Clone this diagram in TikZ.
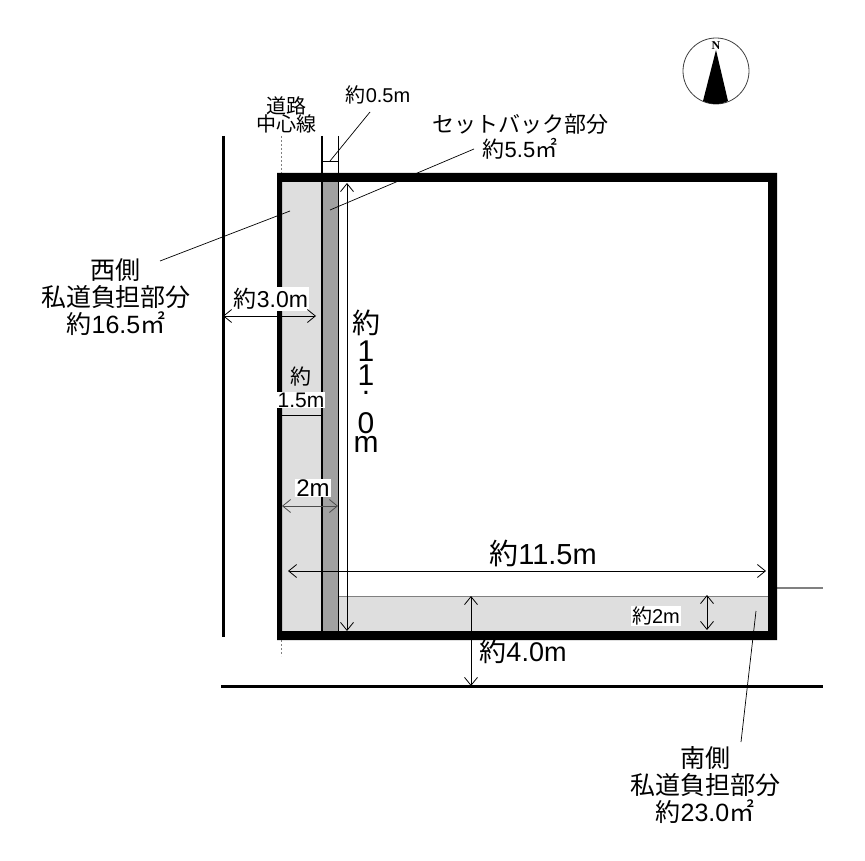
\documentclass[tikz,border=0pt]{standalone}
\usepackage{fontspec}
\setmainfont{Liberation Sans}
\newfontfamily\cjkfont{Noto Sans CJK JP}
\newfontfamily\compassfont{Liberation Serif}
\newcommand{\jp}[1]{{\cjkfont #1}}
\usetikzlibrary{arrows.meta}
\definecolor{roadlight}{gray}{0.87}
\definecolor{roaddark}{gray}{0.63}
\tikzset{
    lbl/.style={align=center, inner sep=1pt, font=\fontsize{#1}{#1}\selectfont},
    halo/.style={lbl=#1, fill=white},
    leader/.style={draw=black, line width=0.7pt},
    dimline/.style={draw=black, line width=0.8pt, {Straight Barb[length=8pt,width=13pt]}-{Straight Barb[length=8pt,width=13pt]}},
    roadline/.style={draw=black, line width=3pt}
}
\begin{document}
\begin{tikzpicture}[x=1pt, y=-1pt]
    \useasboundingbox (0,0) rectangle (865,861);

    % Road shares and setback strip
    \fill[roadlight] (282,181) rectangle (322,632);
    \fill[roadlight] (338,596) rectangle (769,632);
    \draw[gray, line width=1pt] (338,596) -- (769,596);
    \fill[roaddark] (323,181) rectangle (338,632);

    % Centre line of the road
    \draw[gray, line width=1pt, dash pattern=on 2pt off 2pt] (281,136) -- (281,173);
    \draw[gray, line width=1pt, dash pattern=on 2pt off 2pt] (281,640) -- (281,656);

    % Road edges
    \draw[roadline] (223,136) -- (223,637);
    \draw[roadline] (221,686) -- (823,686);
    \draw[gray, line width=1.5pt] (777,588) -- (823,588);

    % Boundary lines of the setback
    \draw[black, line width=2.2pt] (322,136) -- (322,632);
    \draw[black, line width=0.6pt] (338,136) -- (338,632);
    \draw[black, line width=0.6pt] (322,161) -- (338,161);
    \draw[black, line width=0.6pt] (282,415) -- (321,415);

    % Lot outline
    \fill[black, even odd rule] (277,173) rectangle (777,640) (282,182) rectangle (768,631);

    % Leader ends
    \coordinate (setbackEnd) at (330,210);
    \coordinate (westEnd) at (290,211);
    \coordinate (southEnd) at (756,611);
    \coordinate (halfEnd) at (330,161);

    % Labels
    \node[lbl=20] (centreLabel) at (286,115) {\jp{道路}\\[-2pt]\jp{中心線}};
    \node[lbl=20] (halfLabel) at (378,95) {\jp{約}0.5m};
    \node[lbl=22] (setbackLabel) at (520,137) {\jp{セットバック部分}\\[3pt]\jp{約}5.5\jp{㎡}};
    \node[lbl=25] (westLabel) at (116,297) {\jp{西側}\\[2pt]\jp{私道負担部分}\\[2pt]\jp{約}16.5\jp{㎡}};
    \node[lbl=25] (southLabel) at (705,785) {\jp{南側}\\[2pt]\jp{私道負担部分}\\[2pt]\jp{約}23.0\jp{㎡}};
    \node[align=center, inner sep=0pt, font=\fontsize{30}{26}\selectfont] (depthLabel) at (366,381) {\jp{\fontsize{28}{26}\selectfont 約}\\[2pt]1\\[-2pt]1\\[-17pt].\\[13pt]0\\[-7pt]m};
    \node[lbl=29] (widthLabel) at (543,553) {\jp{約}11.5m};
    \node[lbl=27] (roadSouthLabel) at (523,651) {\jp{約}4.0m};

    % Leaders
    \draw[leader] (474,149) -- (setbackEnd);
    \draw[leader] (370,112) -- (halfEnd);
    \draw[leader] (160,261) -- (westEnd);
    \draw[leader] (741,742) -- (southEnd);

    % Dimension arrows
    \coordinate (depthTop) at (347,183);
    \coordinate (depthBottom) at (347,631);
    \coordinate (widthLeft) at (288,571);
    \coordinate (widthRight) at (766,571);
    \coordinate (westRoadA) at (223,316);
    \coordinate (westRoadB) at (316,316);
    \coordinate (twoA) at (282,506);
    \coordinate (twoB) at (338,506);
    \coordinate (southA) at (707,595);
    \coordinate (southB) at (707,630);
    \coordinate (roadA) at (471,596);
    \coordinate (roadB) at (471,686);
    \draw[dimline] (depthTop) -- (depthBottom);
    \draw[dimline] (widthLeft) -- (widthRight);
    \draw[dimline] (southA) -- (southB);
    \draw[dimline] (roadA) -- (roadB);

    % Labels with a white ground
    \node[halo=23] (westRoadLabel) at (271,299) {\jp{約}3.0m};
    \node[lbl=21] (shareChar) at (301,377) {\jp{約}};
    \node[halo=21] (shareLabel) at (301,400) {1.5m};
    \node[halo=24] (twoLabel) at (313,488) {2m};
    \node[halo=20] (southShareLabel) at (656,616) {\jp{約}2m};
    \draw[dimline] (westRoadA) -- (westRoadB);
    \draw[dimline, draw=black!70] (twoA) -- (twoB);

    % Compass
    \node[circle, draw=black!75, line width=0.8pt, minimum size=66pt, inner sep=0pt] (compass) at (716,71) {};
    \node[font=\compassfont\bfseries\fontsize{12}{12}\selectfont, inner sep=0pt] (north) at (716,46) {N};
    \fill[black] (716,50) -- (728,101) .. controls (720,105) and (712,105) .. (703,101) -- cycle;
\end{tikzpicture}
\end{document}
